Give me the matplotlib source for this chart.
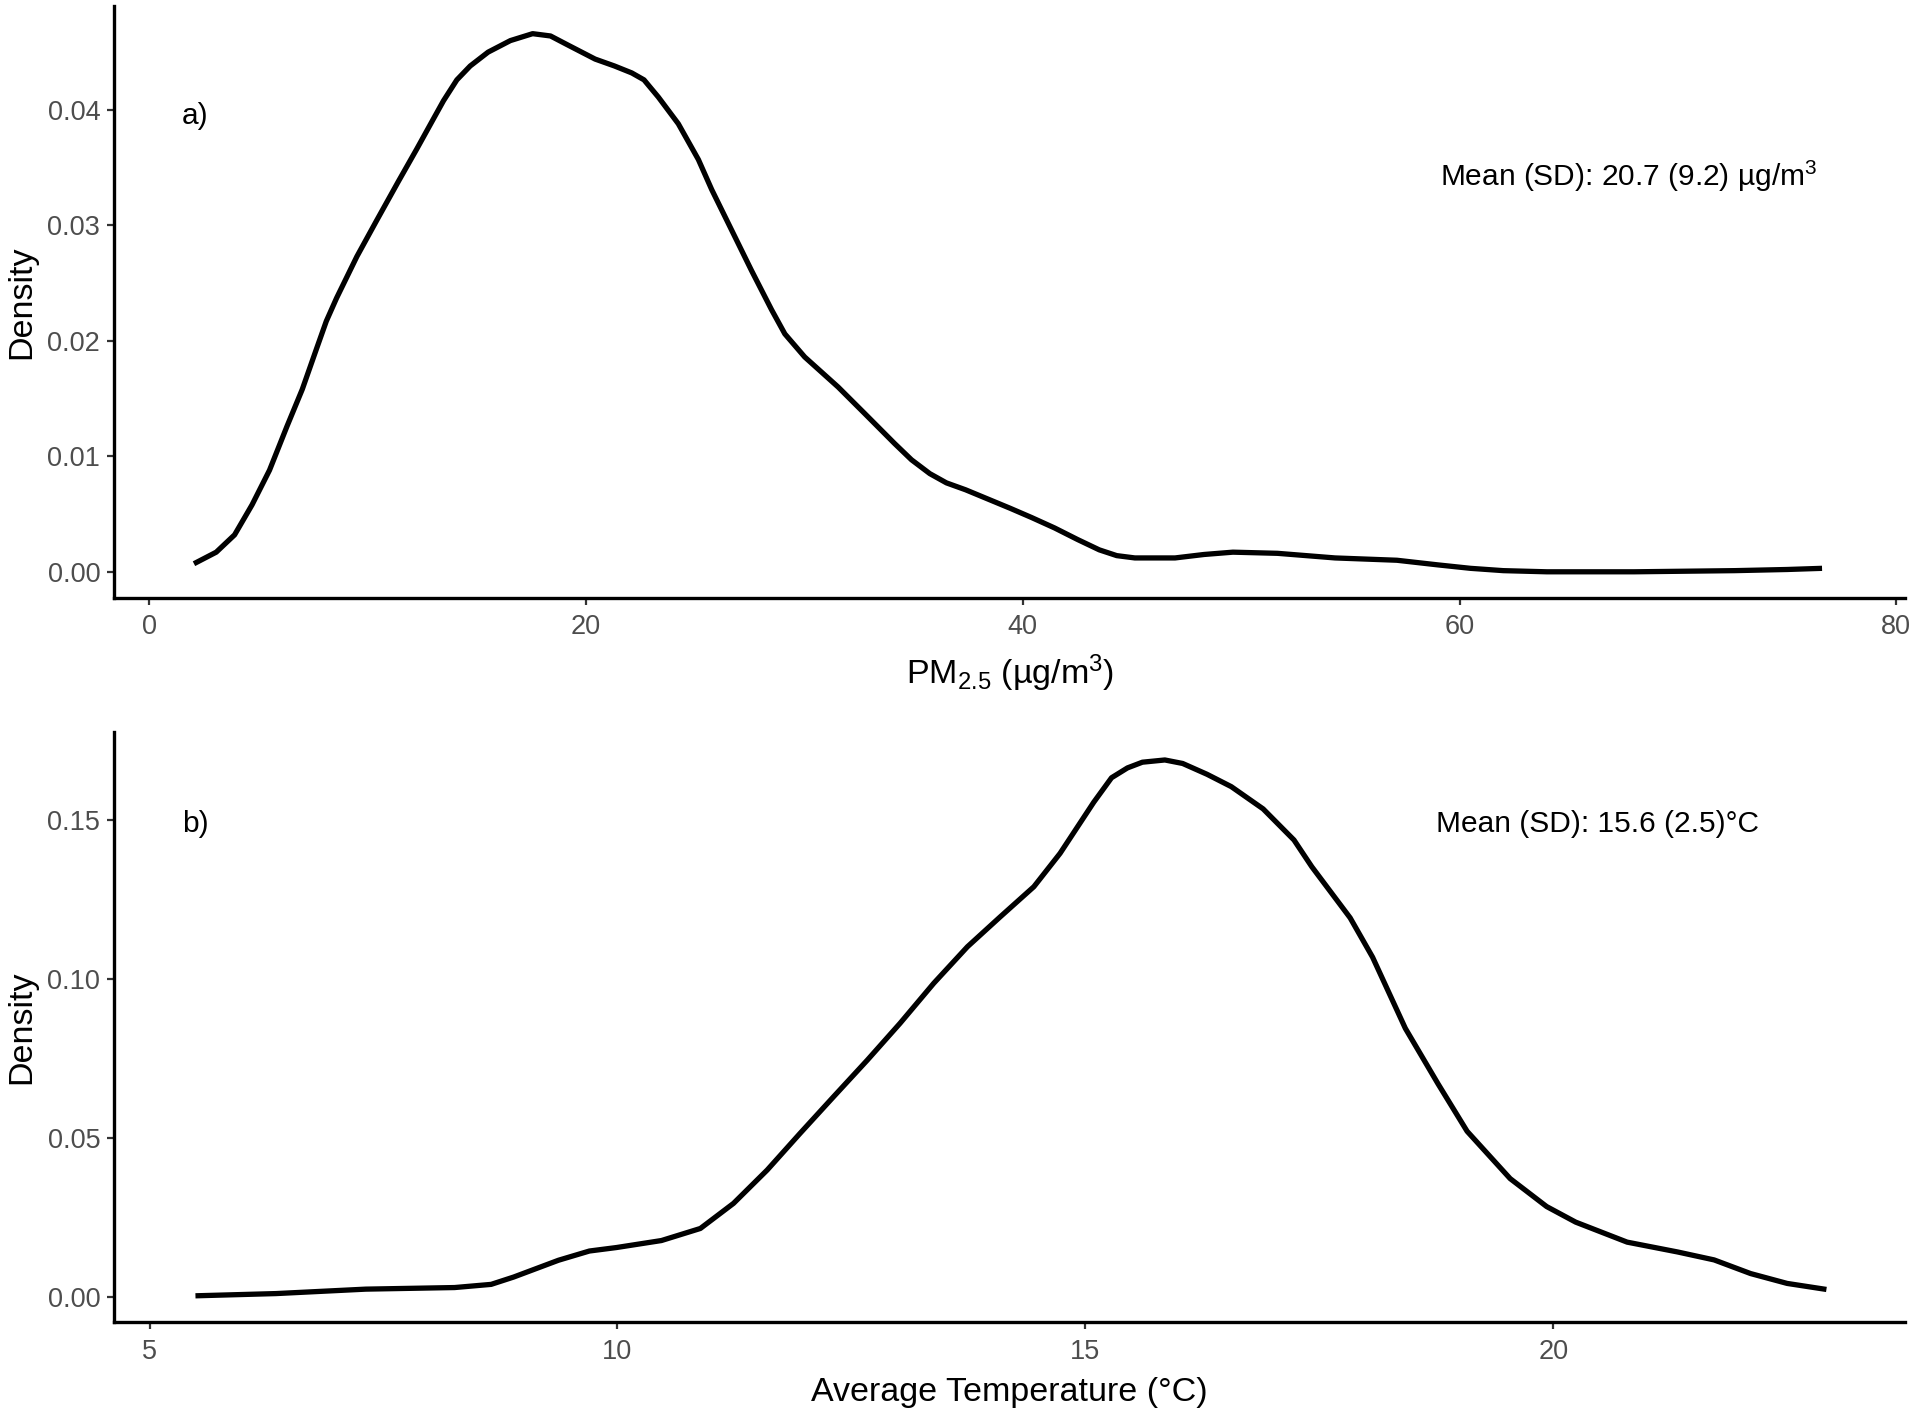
import matplotlib
matplotlib.use("Agg")
import matplotlib.pyplot as plt

plt.rcParams['font.family'] = ['Liberation Sans', 'DejaVu Sans']
plt.rcParams['mathtext.fontset'] = 'custom'
plt.rcParams['mathtext.rm'] = 'Liberation Sans'
plt.rcParams['mathtext.it'] = 'Liberation Sans:italic'
plt.rcParams['mathtext.bf'] = 'Liberation Sans:bold'

# ---- Data ----
pm_x = [2.04, 3.06, 3.9, 4.7, 5.5, 6.3, 7.0, 7.65, 8.1, 8.57, 9.5, 10.4, 11.4,
        12.24, 13.0, 13.47, 14.08, 14.69, 15.51, 16.53, 17.55, 18.37, 19.18,
        20.41, 21.3, 22.09, 22.65, 23.31, 24.22, 25.14, 25.75, 26.66, 27.57,
        28.49, 29.1, 30.01, 31.54, 32.76, 34.13, 34.9, 35.74, 36.5, 37.38, 38.4,
        39.42, 40.4, 41.45, 42.5, 43.5, 44.3, 45.13, 46.97, 48.3, 49.62, 51.66,
        54.3, 57.13, 59.0, 60.5, 62.0, 64.0, 68.0, 72.6, 75.0, 76.6]
pm_y = [0.0007, 0.0017, 0.0032, 0.0058, 0.0088, 0.0126, 0.0158, 0.0193, 0.0217,
        0.0237, 0.0273, 0.0304, 0.0338, 0.0366, 0.0392, 0.0408, 0.0426, 0.0438,
        0.0450, 0.0460, 0.0466, 0.0464, 0.0456, 0.0444, 0.0438, 0.0432, 0.0426,
        0.0411, 0.0388, 0.0357, 0.0331, 0.0296, 0.0261, 0.0227, 0.0206, 0.0186,
        0.0160, 0.0137, 0.0111, 0.0097, 0.0085, 0.0077, 0.0071, 0.0063, 0.0055,
        0.0047, 0.0038, 0.0028, 0.0019, 0.0014, 0.0012, 0.0012, 0.0015, 0.0017,
        0.0016, 0.0012, 0.0010, 0.0006, 0.0003, 0.0001, 0.0000, 0.0000, 0.0001,
        0.0002, 0.0003]

temp_x = [5.49, 6.35, 7.31, 8.26, 8.65, 8.89, 9.37, 9.7, 9.99, 10.47, 10.886,
          11.24, 11.60, 11.95, 12.31, 12.67, 13.02, 13.38, 13.74, 14.09, 14.45,
          14.73, 15.09, 15.28, 15.45, 15.61, 15.85, 16.04, 16.3, 16.56, 16.90,
          17.23, 17.42, 17.83, 18.07, 18.42, 18.77, 19.08, 19.54, 19.93, 20.24,
          20.79, 21.33, 21.72, 22.11, 22.50, 22.92]
temp_y = [0.0003, 0.0010, 0.0024, 0.0029, 0.0039, 0.0062, 0.0115, 0.0144, 0.0155,
          0.0177, 0.0215, 0.0294, 0.0399, 0.0514, 0.0630, 0.0745, 0.0861, 0.0987,
          0.1102, 0.1196, 0.1291, 0.1396, 0.1557, 0.1634, 0.1665, 0.1683, 0.1690,
          0.1679, 0.1645, 0.1606, 0.1536, 0.1438, 0.1354, 0.1193, 0.1069, 0.0845,
          0.0670, 0.0521, 0.0372, 0.0284, 0.0235, 0.0172, 0.0141, 0.0116, 0.0073,
          0.0042, 0.0023]

pm_xticks = [0, 20, 40, 60, 80]
pm_yticks = [0.00, 0.01, 0.02, 0.03, 0.04]
pm_yticklabels = ["0.00", "0.01", "0.02", "0.03", "0.04"]
temp_xticks = [5, 10, 15, 20]
temp_yticks = [0.00, 0.05, 0.10, 0.15]
temp_yticklabels = ["0.00", "0.05", "0.10", "0.15"]

panel_labels = ["a)", "b)"]
pm_note = r"Mean (SD): 20.7 (9.2) µg/m$^{3}$"
temp_note = "Mean (SD): 15.6 (2.5)°C"
pm_xlabel = r"PM$_{\mathrm{2.5}}$ (µg/m$^{3}$)"
temp_xlabel = "Average Temperature (°C)"

# ---- Figure ----
fig = plt.figure(figsize=(19.2, 14.17), dpi=100)
L, R = 0.0594, 0.9922
ax1 = fig.add_axes([L, 0.5783, R - L, 0.9958 - 0.5783])
ax2 = fig.add_axes([L, 0.0667, R - L, 0.4834 - 0.0667])

TICK_COLOR = '#4D4D4D'


def style(ax):
    for s in ['top', 'right']:
        ax.spines[s].set_visible(False)
    for s in ['left', 'bottom']:
        ax.spines[s].set_linewidth(2.4)
        ax.spines[s].set_color('black')
    ax.tick_params(axis='both', length=5, width=1.6, color='#333333',
                   labelsize=19.5, labelcolor=TICK_COLOR, pad=5)
    ax.tick_params(axis='x', pad=7)


def ylab(ax):
    ax.set_ylabel("Density", fontsize=24.5, va='center', ha='center')
    ax.yaxis.set_label_coords(-0.0514, 0.5)


# Top panel
ax1.plot(pm_x, pm_y, color='black', lw=3.8, solid_capstyle='butt', solid_joinstyle='round')
ax1.set_xlim(-1.62, 80.4)
ax1.set_ylim(-0.00223, 0.049)
ax1.set_xticks(pm_xticks)
ax1.set_yticks(pm_yticks)
ax1.set_yticklabels(pm_yticklabels)
style(ax1)
ylab(ax1)
ax1.set_xlabel(pm_xlabel, fontsize=24.5)
ax1.xaxis.label.set_va('center')
ax1.xaxis.set_label_coords(0.5, -0.128)
ax1.text(1.5, 0.0388, panel_labels[0], fontsize=21.5, ha='left', va='baseline')
ax1.text(59.1, 0.0334, pm_note, fontsize=21.5, ha='left', va='baseline')

# Bottom panel
ax2.plot(temp_x, temp_y, color='black', lw=3.8, solid_capstyle='butt', solid_joinstyle='round')
ax2.set_xlim(4.62, 23.76)
ax2.set_ylim(-0.0081, 0.1778)
ax2.set_xticks(temp_xticks)
ax2.set_yticks(temp_yticks)
ax2.set_yticklabels(temp_yticklabels)
style(ax2)
ylab(ax2)
ax2.set_xlabel(temp_xlabel, fontsize=24.5)
ax2.xaxis.label.set_va('center')
ax2.xaxis.set_label_coords(0.5, -0.118)
ax2.text(5.345, 0.1462, panel_labels[1], fontsize=21.5, ha='left', va='baseline')
ax2.text(18.75, 0.1463, temp_note, fontsize=21.5, ha='left', va='baseline')

fig.savefig("out.png", dpi=100, facecolor='white')
